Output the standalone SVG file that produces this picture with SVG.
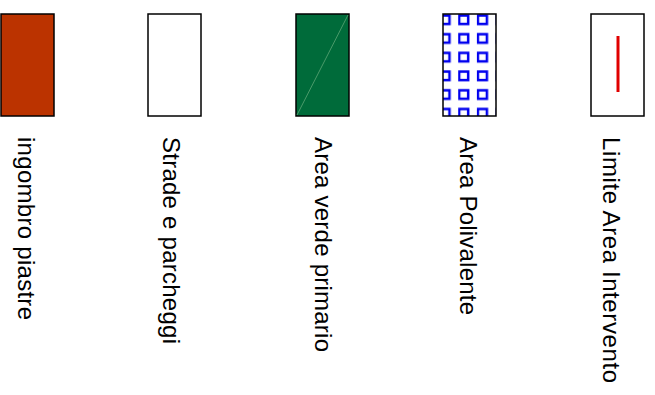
<svg xmlns="http://www.w3.org/2000/svg" width="655" height="395" viewBox="0 0 655 395">
<style>
.box{stroke:#000;stroke-width:1.5}
.lbl{font-family:"Liberation Sans",Arial,sans-serif;font-size:24px;fill:#000}
</style>
<defs>
<pattern id="sq" patternUnits="userSpaceOnUse" x="439.5" y="14" width="18.7" height="18.7">
<rect x="1" y="1.5" width="9" height="8.5" fill="none" stroke="#0000EE" stroke-width="2.5"/>
</pattern>
</defs>
<rect width="655" height="395" fill="#fff"/>
<g id="ingombro">
<rect class="box" x="1" y="14" width="53" height="102" fill="#BB3300"/>
<text class="lbl" transform="translate(18,137) rotate(90)" textLength="183" lengthAdjust="spacing">ingombro piastre</text>
</g>
<g id="strade">
<rect class="box" x="148" y="14" width="53" height="102" fill="#fff"/>
<text class="lbl" transform="translate(163,137) rotate(90)" textLength="207" lengthAdjust="spacing">Strade e parcheggi</text>
</g>
<g id="verde">
<rect class="box" x="296" y="14" width="53" height="102" fill="#006B3A"/>
<line x1="297" y1="115" x2="348" y2="15" stroke="#4A9A6A" stroke-width="1"/>
<text class="lbl" transform="translate(315,137) rotate(90)" textLength="215" lengthAdjust="spacing">Area verde primario</text>
</g>
<g id="polivalente">
<rect x="443" y="14" width="53" height="102" fill="#fff"/>
<rect x="443" y="14" width="53" height="102" fill="url(#sq)"/>
<rect class="box" x="443" y="14" width="53" height="102" fill="none"/>
<text class="lbl" transform="translate(460,137) rotate(90)" textLength="178" lengthAdjust="spacing">Area Polivalente</text>
</g>
<g id="limite">
<rect class="box" x="591" y="14" width="53" height="102" fill="#fff"/>
<line x1="618" y1="36" x2="618" y2="92" stroke="#E00000" stroke-width="3"/>
<text class="lbl" transform="translate(603,137) rotate(90)" textLength="246" lengthAdjust="spacing">Limite Area Intervento</text>
</g>
<g id="connectors"/>
</svg>
